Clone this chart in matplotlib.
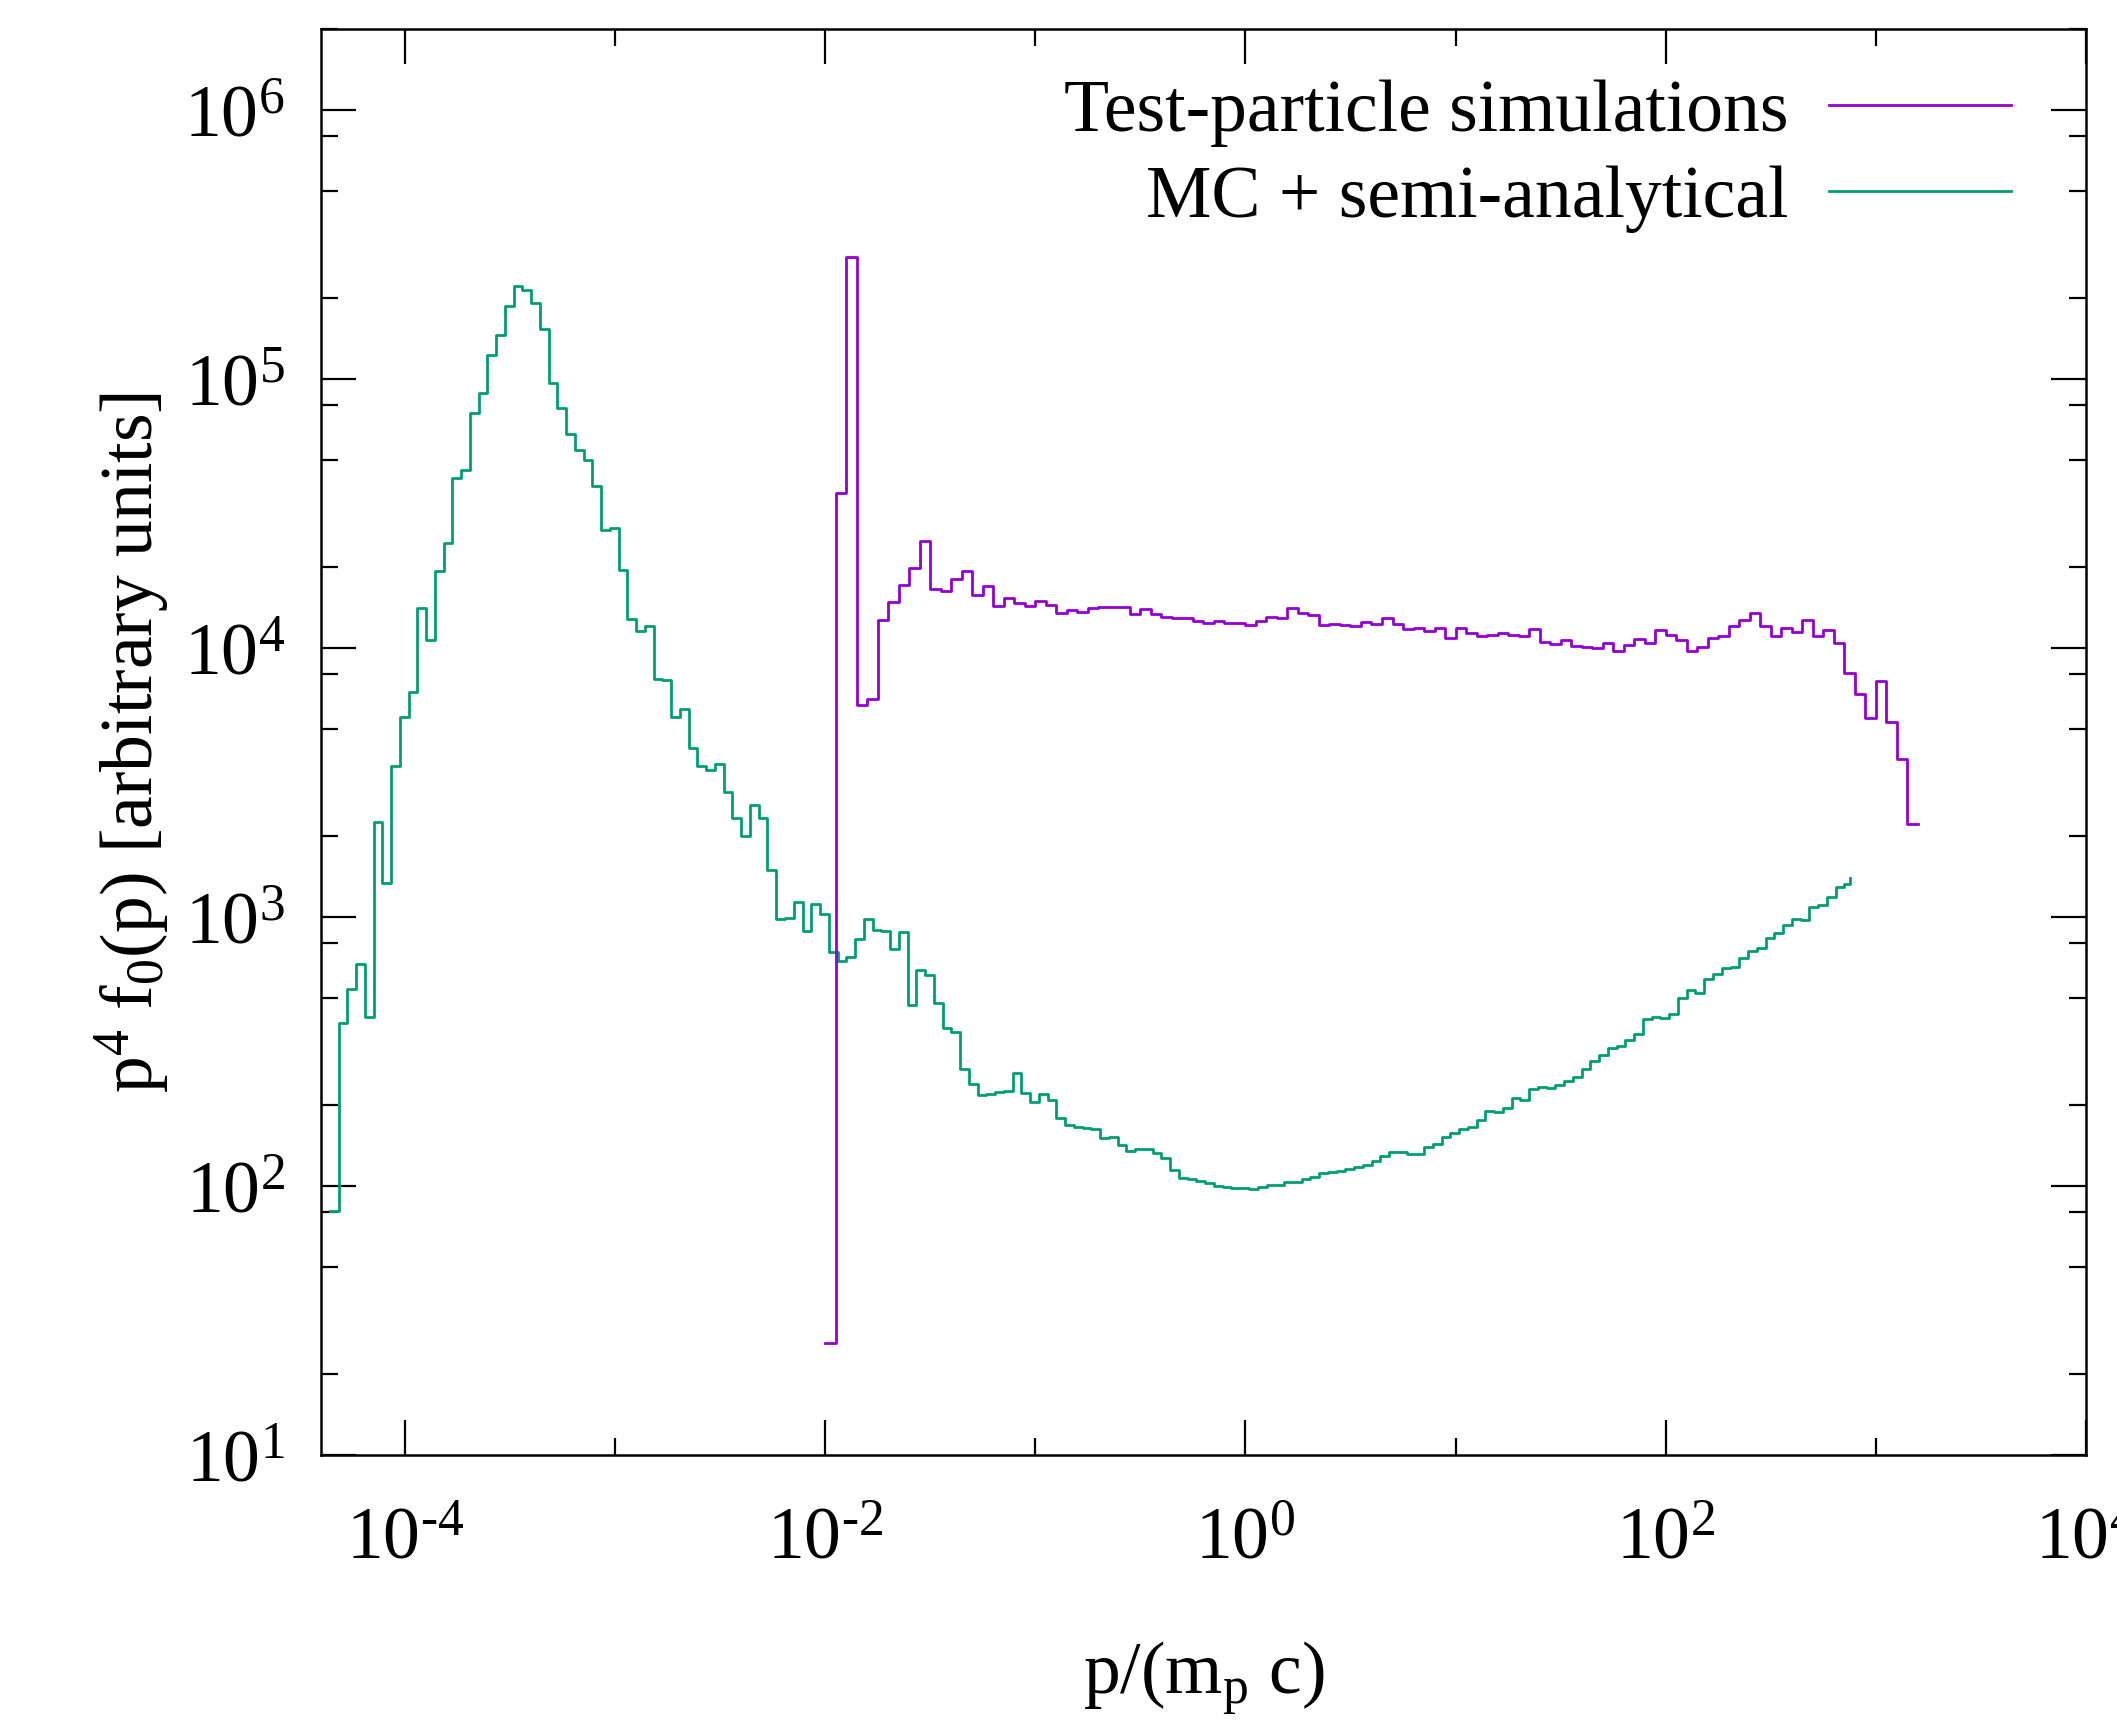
import numpy as np
import matplotlib.pyplot as plt
from matplotlib.ticker import FixedLocator, FuncFormatter, NullFormatter

# MC + semi-analytical: log bins, 24 per decade
mc_log_p0 = -4.358
mc_bins_per_decade = 24
mc_values = [
    81, 402, 538, 668, 426, 2249, 1334, 3650, 5560, 6860,
    14060, 10730, 19360, 24640, 42850, 46000, 74650, 88900, 122800, 145600,
    187100, 220900, 214700, 190800, 152800, 96800, 77900, 62500, 54500, 49800,
    39850, 27500, 27870, 19450, 12820, 11540, 12110, 7660, 7600, 5560,
    5925, 4240, 3650, 3525, 3710, 2918, 2335, 2006, 2603, 2329,
    1490, 979, 988, 1140, 889, 1114, 1025, 738, 687, 711,
    830, 979, 897, 884, 762, 877, 469, 633, 608, 478,
    385, 374, 271, 240, 217, 220, 224, 226, 262, 222,
    205, 219, 209, 179, 168, 165, 164, 163, 151, 152,
    142.5, 134.6, 137, 137, 133, 126.5, 114.4, 107.4, 106.5, 104,
    102.8, 100, 98.7, 98.5, 98.2, 97, 99.3, 101, 101, 103,
    103, 106, 108, 111.7, 113, 113.3, 116, 118, 119.7, 124,
    129, 133.4, 133.7, 131.5, 131.5, 139.3, 143, 152, 157, 163,
    165, 176.5, 189.7, 189, 195, 212, 208, 230, 233.6, 232,
    236.6, 245, 255, 272, 291, 308, 326.5, 330, 348, 366,
    417, 423, 420, 437, 498, 536, 522, 586, 611, 644,
    653, 706, 750, 764, 838, 874, 933, 986, 975, 1089,
    1105, 1183, 1289, 1322,
]
mc_log_p_end = 2.878
mc_end_value = 1392

# Test-particle simulations: 0.05 dex bins
tp_log_p0 = -2.0
tp_bin_dex = 0.05
tp_values = [
    26, 37600, 283000, 6160, 6450, 12700, 14840, 17130, 19740, 25000,
    16530, 16330, 18080, 19370, 15740, 16980, 14350, 15350, 14700, 14320,
    15000, 14480, 13510, 13800, 13590, 14100, 14150, 14200, 14250, 13340,
    13920, 13420, 13070, 12870, 12940, 12620, 12380, 12560, 12350, 12380,
    12160, 12570, 13060, 12960, 14060, 13490, 13280, 12130, 12310, 12200,
    12100, 12470, 12310, 12870, 12240, 11770, 11840, 11560, 11880, 10890,
    11840, 11380, 11110, 11140, 11380, 11140, 11040, 11730, 10500, 10370,
    10690, 10210, 10090, 9970, 10400, 9740, 10250, 10790, 10400, 11630,
    11190, 10690, 9770, 10040, 10880, 11110, 12110, 12710, 13490, 12110,
    11080, 11860, 11460, 12710, 11110, 11690, 10420, 8070, 6760, 5490,
    7510, 5300, 3850, 2220,
]

x_major = [1e-4, 1e-2, 1e0, 1e2, 1e4]
x_minor = [1e-3, 1e-1, 1e1, 1e3]
y_major = [1e1, 1e2, 1e3, 1e4, 1e5, 1e6]
y_minor = [m * 10.0**k for k in range(1, 7) for m in (2, 5, 8)]

plt.rcParams['font.family'] = ['Liberation Serif', 'DejaVu Serif']
plt.rcParams['mathtext.fontset'] = 'custom'
plt.rcParams['mathtext.rm'] = 'Liberation Serif'
plt.rcParams['mathtext.it'] = 'Liberation Serif:italic'
plt.rcParams['mathtext.default'] = 'regular'

fs = 53

# step coordinates
mc_x = 10 ** (mc_log_p0 + np.arange(len(mc_values)) / mc_bins_per_decade)
mc_x = np.append(mc_x, 10 ** mc_log_p_end)
mc_y = np.append(mc_values, mc_end_value)

tp_x = 10 ** (tp_log_p0 + tp_bin_dex * np.arange(len(tp_values) + 1))
tp_y = np.append(tp_values, tp_values[-1])

fig = plt.figure(figsize=(21.17, 17.31), dpi=100)
ax = fig.add_axes([0.1516, 0.1589, 0.8337, 0.8238])

l_mc, = ax.step(mc_x, mc_y, where='post', color='#009E73', lw=2.0,
                label='MC + semi-analytical')
l_tp, = ax.step(tp_x, tp_y, where='post', color='#9400D3', lw=2.0,
                label='Test-particle simulations')

ax.set_xscale('log')
ax.set_yscale('log')
ax.set_xlim(10 ** -4.4, 1e4)
ax.set_ylim(10, 2e6)


def exp_label(v, pos):
    e = int(round(np.log10(v)))
    # gnuplot writes a plain hyphen in the exponent
    return r'$10^{%s}$' % (str(e).replace('-', '\u2010'))


fmt = FuncFormatter(exp_label)
ax.xaxis.set_major_locator(FixedLocator(x_major))
ax.xaxis.set_minor_locator(FixedLocator(x_minor))
ax.yaxis.set_major_locator(FixedLocator(y_major))
ax.yaxis.set_minor_locator(FixedLocator(y_minor))
ax.xaxis.set_major_formatter(fmt)
ax.yaxis.set_major_formatter(fmt)
ax.xaxis.set_minor_formatter(NullFormatter())
ax.yaxis.set_minor_formatter(NullFormatter())

ax.tick_params(which='both', direction='in', top=True, right=True,
               width=1.6, labelsize=fs)
ax.tick_params(which='major', length=25)
ax.tick_params(which='minor', length=12)
ax.tick_params(axis='x', pad=37)
ax.tick_params(axis='y', pad=26)
for s in ax.spines.values():
    s.set_linewidth(1.8)

ax.set_xlabel(r'p/(m$_{p}$ c)', fontsize=fs, labelpad=46)
ax.set_ylabel(r'p$^{4}$ f$_{0}$(p) [arbitrary units]', fontsize=fs, labelpad=8)

ax.legend(handles=[l_tp, l_mc], loc='upper right', bbox_to_anchor=(0.9575, 0.965),
          markerfirst=False, frameon=False, fontsize=fs, handlelength=2.47,
          handletextpad=0.55, borderaxespad=0, borderpad=0, labelspacing=0.25)

fig.savefig('out.png', dpi=100)
